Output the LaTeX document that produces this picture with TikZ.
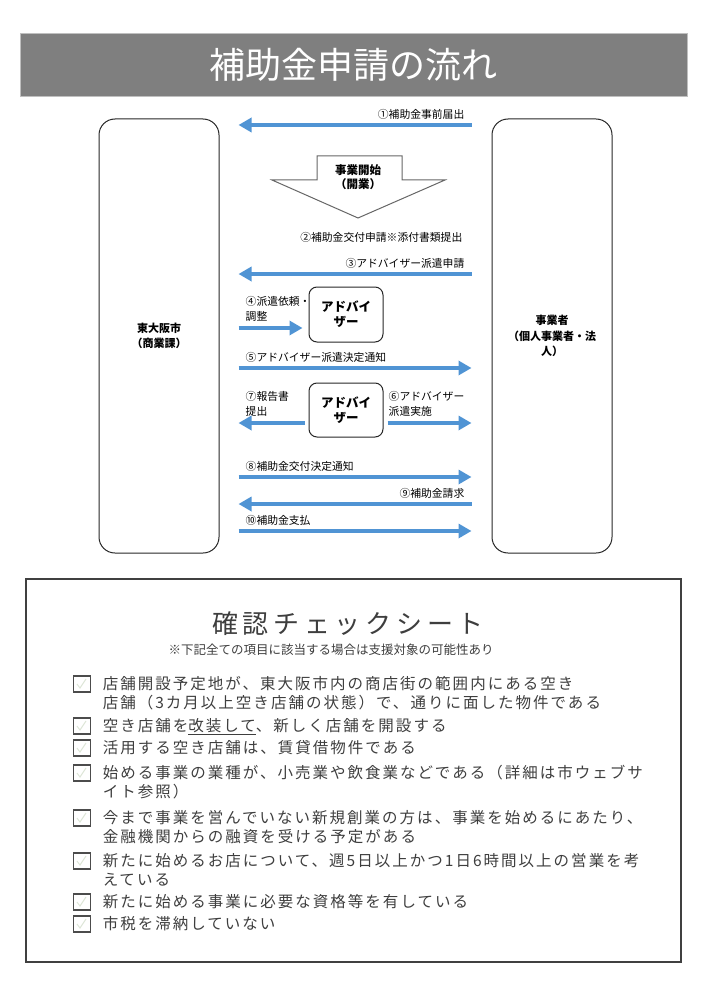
\documentclass[tikz,border=0pt]{standalone}
\usepackage{fontspec}
\setmainfont{Noto Sans CJK JP}
\usetikzlibrary{arrows.meta,positioning,calc}
\definecolor{flowblue}{RGB}{80,148,212}
\definecolor{bargray}{RGB}{127,127,127}
\definecolor{sheettext}{RGB}{62,62,62}
\definecolor{tickgreen}{RGB}{222,230,216}
\newcommand{\fsz}[2]{\fontsize{#1}{#2}\selectfont}

\begin{document}
\begin{tikzpicture}[
    x=1pt, y=-1pt,
    every node/.style={inner sep=0pt},
    titlebar/.style={fill=bargray, draw=black!25, minimum width=667pt, minimum height=63pt, text=white, font=\fsz{36}{40}},
    lane/.style={draw=black!85, line width=1pt, rounded corners=16pt, minimum width=120pt, minimum height=434pt, align=center, font=\fsz{11}{15.5}\bfseries},
    advbox/.style={draw=black!85, line width=1pt, rounded corners=8pt, minimum width=74pt, minimum height=55pt, align=center, font=\fsz{12.5}{15}\bfseries},
    startarrow/.style={draw=black!60, fill=white, line width=1pt},
    flow/.style={draw=flowblue, line width=4.5pt, -{Triangle[length=13pt,width=14pt]}},
    lbl/.style={font=\fsz{10.8}{15}, align=left},
    sheet/.style={draw=black!75, line width=1.2pt},
    chk/.style={draw=black!70, line width=1.1pt, minimum width=17pt, minimum height=16pt,
        path picture={\draw[tickgreen, line width=1pt] ([shift={(-5pt,0pt)}]path picture bounding box.center) -- ++(3pt,-4pt) -- ++(6pt,9pt);}},
    item/.style={anchor=north west, align=left, text=sheettext, font=\fsz{15.5}{18.5}\addfontfeatures{LetterSpace=13}}
]
    \useasboundingbox (0,0) rectangle (707,1000);

    % Title
    \node[titlebar] (title) at (353.5,64.5) {補助金申請の流れ};

    % Lanes
    \node[lane] (city) at (159,336) {東大阪市\\（商業課）};
    \node[lane] (firm) at (552,336) {事業者\\（個人事業者・法\\人）};

    % Advisers
    \node[advbox] (adv1) at (346,314.5) {アドバイ\\ザー};
    \node[advbox, minimum height=54pt] (adv2) at (346,410) {アドバイ\\ザー};

    % Business start
    \draw[startarrow] (317,156) -- (402,156) -- (402,180) -- (445,180) -- (358,218) -- (272,180) -- (317,180) -- cycle;
    \node[font=\fsz{11.5}{14}\bfseries, align=center] (start) at (358,177) {事業開始\\（開業）};

    % Rows
    \coordinate (r1) at (0,125);
    \coordinate (r2) at (0,241);
    \coordinate (r3) at (0,274);
    \coordinate (r4) at (0,328);
    \coordinate (r5) at (0,368);
    \coordinate (r7) at (0,423);
    \coordinate (r8) at (0,477);
    \coordinate (r9) at (0,504);
    \coordinate (r10) at (0,531);

    % Connectors
    \draw[flow, shorten <=20pt, shorten >=19pt] (firm.west |- r1) -- (city.east |- r1);
    \draw[flow, shorten <=20pt, shorten >=19pt] (firm.west |- r3) -- (city.east |- r3);
    \draw[flow, shorten <=19pt, shorten >=6pt] (city.east |- r4) -- (adv1.west |- r4);
    \draw[flow, shorten <=19pt, shorten >=20pt] (city.east |- r5) -- (firm.west |- r5);
    \draw[flow, shorten <=4pt, shorten >=19pt] (adv2.west |- r7) -- (city.east |- r7);
    \draw[flow, shorten <=4pt, shorten >=20pt] (adv2.east |- r7) -- (firm.west |- r7);
    \draw[flow, shorten <=19pt, shorten >=20pt] (city.east |- r8) -- (firm.west |- r8);
    \draw[flow, shorten <=20pt, shorten >=19pt] (firm.west |- r9) -- (city.east |- r9);
    \draw[flow, shorten <=19pt, shorten >=20pt] (city.east |- r10) -- (firm.west |- r10);

    % Labels
    \node[lbl, anchor=south east] (l1) at ([xshift=-27pt,yshift=5pt]firm.west |- r1) {①補助金事前届出};
    \node[lbl, anchor=base east] (l2) at ([xshift=-29pt]firm.west |- r2) {②補助金交付申請※添付書類提出};
    \node[lbl, anchor=south east] (l3) at ([xshift=-27pt,yshift=5pt]firm.west |- r3) {③アドバイザー派遣申請};
    \node[lbl, anchor=south west] (l4) at ([xshift=26pt,yshift=6pt]city.east |- r4) {④派遣依頼・\\調整};
    \node[lbl, anchor=south west] (l5) at ([xshift=26pt,yshift=5pt]city.east |- r5) {⑤アドバイザー派遣決定通知};
    \node[lbl, anchor=south west] (l7) at ([xshift=26pt,yshift=6pt]city.east |- r7) {⑦報告書\\提出};
    \node[lbl, anchor=south west] (l6) at ([xshift=5pt,yshift=6pt]adv2.east |- r7) {⑥アドバイザー\\派遣実施};
    \node[lbl, anchor=south west] (l8) at ([xshift=26pt,yshift=5pt]city.east |- r8) {⑧補助金交付決定通知};
    \node[lbl, anchor=south east] (l9) at ([xshift=-27pt,yshift=5pt]firm.west |- r9) {⑨補助金請求};
    \node[lbl, anchor=south west] (l10) at ([xshift=26pt,yshift=5pt]city.east |- r10) {⑩補助金支払};

    % Check sheet
    \draw[sheet] (26,579) rectangle (681,962);
    \node[text=sheettext, font=\fsz{26}{30}\addfontfeatures{LetterSpace=18}] (chktitle) at (348,624) {確認チェックシート};
    \node[text=sheettext, font=\fsz{12.5}{14}] (chknote) at (331,650) {※下記全ての項目に該当する場合は支援対象の可能性あり};

    \node[chk] (b1) at (82,684) {};
    \node[chk] (b2) at (82,726) {};
    \node[chk] (b3) at (82,748) {};
    \node[chk] (b4) at (82,773) {};
    \node[chk] (b5) at (82,818) {};
    \node[chk] (b6) at (82,861) {};
    \node[chk] (b7) at (82,902) {};
    \node[chk] (b8) at (82,924) {};

    \node[item] (t1) at ([xshift=11.5pt,yshift=7.75pt]b1.east) {店舗開設予定地が、東大阪市内の商店街の範囲内にある空き\\店舗（3カ月以上空き店舗の状態）で、通りに面した物件である};
    \node[item] (t2) at ([xshift=11.5pt,yshift=7.75pt]b2.east) {空き店舗を\underline{改装して}、新しく店舗を開設する};
    \node[item] (t3) at ([xshift=11.5pt,yshift=7.75pt]b3.east) {活用する空き店舗は、賃貸借物件である};
    \node[item] (t4) at ([xshift=11.5pt,yshift=7.75pt]b4.east) {始める事業の業種が、小売業や飲食業などである（詳細は市ウェブサ\\イト参照）};
    \node[item] (t5) at ([xshift=11.5pt,yshift=7.75pt]b5.east) {今まで事業を営んでいない新規創業の方は、事業を始めるにあたり、\\金融機関からの融資を受ける予定がある};
    \node[item] (t6) at ([xshift=11.5pt,yshift=7.75pt]b6.east) {新たに始めるお店について、週5日以上かつ1日6時間以上の営業を考\\えている};
    \node[item] (t7) at ([xshift=11.5pt,yshift=7.75pt]b7.east) {新たに始める事業に必要な資格等を有している};
    \node[item] (t8) at ([xshift=11.5pt,yshift=7.75pt]b8.east) {市税を滞納していない};
\end{tikzpicture}
\end{document}
